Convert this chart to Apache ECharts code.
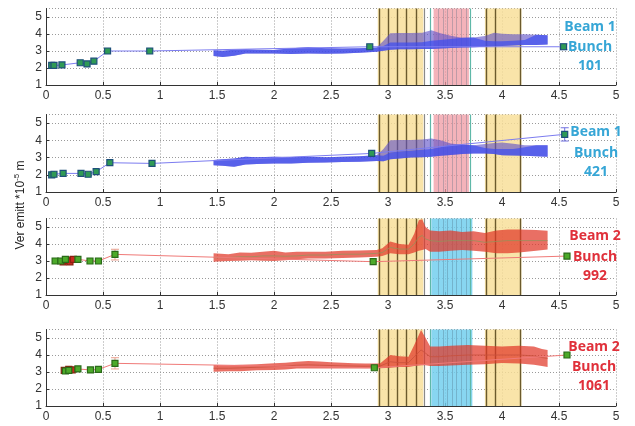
<!DOCTYPE html>
<html>
<head>
<meta charset="utf-8">
<script src="https://cdn.jsdelivr.net/npm/echarts@6/dist/echarts.min.js"></script>
<style>
  html, body { margin: 0; padding: 0; background: #fff; }
  #chart { width: 635px; height: 426px; }
</style>
</head>
<body>
<div id="chart"></div>
<script>
// ---- Scan windows and event markers (x = time) ----
const yellowWindows = [[2.91, 3.31], [3.85, 4.17]];
const beam1Window = [3.40, 3.71];
const beam2Window = [3.38, 3.74];
const eventLines = [2.925, 3.0, 3.08, 3.16, 3.245, 3.86, 3.935, 4.16];
const grayLines = [3.32];
const tealLines = [3.37, 3.715];
const windowLines = [3.44, 3.48, 3.52, 3.56, 3.60, 3.64, 3.68];

// ---- Axis ticks ----
const xTicks = { min: 0, max: 5, step: 0.5 };
const yTicks = { min: 1, max: 5.5, step: 1 };

// ---- Beam 1, bunch 101 ----
const b101PointX = [0.05, 0.07, 0.14, 0.30, 0.36, 0.42, 0.54, 0.91, 2.84, 4.54];
const b101PointY = [2.15, 2.15, 2.18, 2.31, 2.24, 2.40, 3.00, 3.00, 3.25, 3.25];
const b101ErrX = [4.54], b101ErrLo = [3.08], b101ErrHi = [3.42];
const beam1BandX = [1.47, 1.55, 1.65, 1.75, 1.85, 2.0, 2.15, 2.3, 2.45, 2.6, 2.75, 2.9, 2.96, 3.02, 3.1, 3.2, 3.3, 3.38, 3.46, 3.55, 3.65, 3.75, 3.85, 3.93, 4.0, 4.1, 4.2, 4.3, 4.4];
const b101High = [3.05, 3.02, 3.08, 3.10, 3.08, 3.06, 3.16, 3.22, 3.16, 3.15, 3.16, 3.20, 3.60, 4.05, 4.06, 4.06, 4.08, 4.22, 4.05, 3.90, 3.78, 3.80, 3.88, 4.08, 4.02, 3.98, 3.98, 3.95, 3.92];
const b101Low  = [2.70, 2.65, 2.72, 2.85, 2.86, 2.86, 2.82, 2.86, 2.84, 2.86, 2.90, 2.96, 3.02, 3.08, 3.10, 3.10, 3.12, 3.12, 3.14, 3.18, 3.20, 3.22, 3.25, 3.28, 3.30, 3.33, 3.35, 3.35, 3.38];
const b101Core = [3.05, 3.02, 3.08, 3.10, 3.08, 3.06, 3.16, 3.22, 3.16, 3.15, 3.16, 3.20, 3.30, 3.50, 3.50, 3.50, 3.52, 3.60, 3.65, 3.70, 3.78, 3.80, 3.60, 3.58, 3.58, 3.60, 3.65, 3.95, 3.92];

// ---- Beam 1, bunch 421 ----
const b421PointX = [0.05, 0.07, 0.15, 0.307, 0.37, 0.44, 0.56, 0.93, 2.857, 4.55];
const b421PointY = [2.00, 2.03, 2.08, 2.08, 2.03, 2.18, 2.70, 2.66, 3.24, 4.35];
const b421ErrX = [4.55], b421ErrLo = [3.96], b421ErrHi = [4.73];
const b421High = [2.86, 2.90, 2.95, 3.05, 3.02, 3.05, 3.03, 3.05, 3.02, 3.05, 3.08, 3.14, 3.50, 4.00, 4.02, 4.02, 4.05, 4.10, 4.00, 3.82, 3.75, 3.72, 3.78, 3.85, 3.88, 3.80, 3.72, 3.72, 3.72];
const b421Low  = [2.55, 2.52, 2.47, 2.60, 2.62, 2.66, 2.66, 2.70, 2.72, 2.74, 2.76, 2.80, 2.78, 2.90, 2.95, 3.00, 3.02, 3.05, 3.10, 3.15, 3.20, 3.24, 3.24, 3.20, 3.14, 3.12, 3.10, 3.08, 3.05];
const b421Core = [2.86, 2.90, 2.95, 3.05, 3.02, 3.05, 3.03, 3.05, 3.02, 3.05, 3.08, 3.14, 3.10, 3.30, 3.35, 3.40, 3.45, 3.50, 3.60, 3.75, 3.75, 3.72, 3.55, 3.50, 3.50, 3.50, 3.60, 3.72, 3.72];

// ---- Beam 2, bunch 992 ----
const b992PointX = [0.08, 0.13, 0.17, 0.28, 0.386, 0.46, 0.605, 2.87, 4.57];
const b992PointY = [3.00, 3.00, 3.10, 3.10, 3.00, 3.00, 3.39, 2.96, 3.29];
const b992RedX = [0.15, 0.19, 0.21, 0.24];
const b992RedY = [2.95, 3.05, 2.95, 3.10];
const b992ErrX = [0.605], b992ErrLo = [3.06], b992ErrHi = [3.69];
const b992BandX = [1.47, 1.6, 1.7, 1.8, 1.9, 2.0, 2.1, 2.2, 2.3, 2.45, 2.6, 2.75, 2.9, 2.95, 3.02, 3.1, 3.18, 3.23, 3.27, 3.3, 3.33, 3.37, 3.45, 3.55, 3.65, 3.75, 3.85, 3.95, 4.05, 4.15, 4.3, 4.4];
const b992High = [3.45, 3.40, 3.50, 3.48, 3.55, 3.60, 3.50, 3.55, 3.55, 3.55, 3.60, 3.62, 3.65, 3.75, 4.14, 4.00, 3.95, 4.60, 5.40, 5.45, 5.00, 4.80, 4.75, 4.80, 4.70, 4.75, 4.65, 4.80, 4.85, 4.85, 4.82, 4.78];
const b992Low  = [2.96, 3.00, 3.02, 3.05, 3.02, 3.00, 3.05, 3.10, 3.15, 3.15, 3.18, 3.20, 3.25, 3.30, 3.45, 3.40, 3.40, 3.50, 3.60, 3.65, 3.70, 3.55, 3.55, 3.60, 3.65, 3.60, 3.55, 3.45, 3.45, 3.50, 3.60, 3.67];
const b992Mean = [3.20, 3.20, 3.25, 3.25, 3.30, 3.30, 3.28, 3.30, 3.35, 3.35, 3.40, 3.40, 3.45, 3.50, 3.80, 3.70, 3.70, 4.00, 4.40, 4.50, 4.30, 4.20, 4.15, 4.20, 4.20, 4.20, 4.10, 4.15, 4.20, 4.20, 4.20, 4.20];

// ---- Beam 2, bunch 1061 ----
const b1061PointX = [0.17, 0.20, 0.28, 0.39, 0.46, 0.605, 2.88, 4.57];
const b1061PointY = [3.06, 3.10, 3.18, 3.12, 3.15, 3.51, 3.25, 4.00];
const b1061RedX = [0.16, 0.20, 0.23];
const b1061RedY = [3.10, 3.15, 3.12];
const b1061ErrX = [0.605], b1061ErrLo = [3.18], b1061ErrHi = [3.84];
const b1061BandX = [1.47, 1.6, 1.7, 1.85, 2.0, 2.1, 2.2, 2.3, 2.4, 2.5, 2.6, 2.7, 2.8, 2.93, 3.02, 3.1, 3.18, 3.23, 3.29, 3.33, 3.37, 3.45, 3.55, 3.7, 3.85, 4.0, 4.15, 4.28, 4.35, 4.4];
const b1061High = [3.41, 3.40, 3.42, 3.45, 3.51, 3.55, 3.60, 3.65, 3.62, 3.58, 3.55, 3.52, 3.50, 3.50, 4.00, 3.92, 3.90, 4.59, 5.47, 5.00, 4.50, 4.50, 4.55, 4.59, 4.55, 4.50, 4.55, 4.50, 4.35, 4.30];
const b1061Low  = [3.02, 3.05, 3.05, 3.10, 3.12, 3.15, 3.20, 3.20, 3.20, 3.20, 3.20, 3.20, 3.20, 3.22, 3.25, 3.30, 3.30, 3.35, 3.40, 3.40, 3.35, 3.35, 3.38, 3.43, 3.45, 3.53, 3.50, 3.43, 3.35, 3.30];
const b1061Mean = [3.22, 3.22, 3.24, 3.28, 3.32, 3.35, 3.40, 3.42, 3.40, 3.38, 3.36, 3.35, 3.34, 3.35, 3.60, 3.55, 3.55, 3.90, 4.30, 4.10, 3.90, 3.90, 3.95, 4.00, 4.00, 4.00, 4.00, 3.95, 3.85, 3.80];

const panelText = [
  { beam: 'Beam 1', bunch: '101' },
  { beam: 'Beam 1', bunch: '421' },
  { beam: 'Beam 2', bunch: '992' },
  { beam: 'Beam 2', bunch: '1061' }
];

// ---- layout ----
const gridTops = [8.5, 114.5, 218.5, 329.5];
const gridHeights = [76.5, 77.5, 76.5, 76.5];
const labelY = [[27, 47, 66], [132, 153, 172], [236, 257, 276], [347, 367, 386]];
const labelX = [590, 596, 595, 594];
const beam1Color = '#36a6d6';
const beam2Color = '#e0303a';

const pairs = (xs, ys) => xs.map((x, i) => [x, ys[i]]);

// Time windows (shaded) and event markers, drawn together behind the data
function eventSeries(idx, beamWin, beamWinColor) {
  const wins = yellowWindows.map(w => ({ a: w[0], b: w[1], fill: 'rgba(248,222,150,0.82)' }));
  wins.push({ a: beamWin[0], b: beamWin[1], fill: beamWinColor });
  const marks = []
    .concat(windowLines.map(x => ({ x, c: 'rgba(70,100,120,0.3)', w: 1 })))
    .concat(eventLines.map(x => ({ x, c: '#6b5a2c', w: 1.4 })))
    .concat(grayLines.map(x => ({ x, c: '#8a8a8a', w: 1.2 })))
    .concat(tealLines.map(x => ({ x, c: '#5fb8a8', w: 1.2 })));
  return {
    type: 'custom', xAxisIndex: idx, yAxisIndex: idx, z: 1, silent: true,
    data: [[beamWin[0]]],
    encode: { x: 0 },
    renderItem(params, api) {
      const cs = params.coordSys;
      const px = v => api.coord([v, yTicks.min])[0];
      const children = wins.map(w => ({
        type: 'rect', shape: { x: px(w.a), y: cs.y, width: px(w.b) - px(w.a), height: cs.height },
        style: { fill: w.fill }
      })).concat(marks.map(m => {
        const x = Math.round(px(m.x)) + 0.5;
        return { type: 'line', shape: { x1: x, y1: cs.y, x2: x, y2: cs.y + cs.height },
                 style: { stroke: m.c, lineWidth: m.w } };
      }));
      return { type: 'group', children };
    }
  };
}

// Spread band between a lower and an upper curve
function bandSeries(idx, xs, lo, hi, fill, z) {
  return {
    type: 'custom', xAxisIndex: idx, yAxisIndex: idx, z: z, silent: true,
    data: xs.map((x, k) => [x, lo[k], hi[k]]),
    encode: { x: 0, y: [1, 2] },
    renderItem(params, api) {
      if (params.dataIndex !== 0) return null;
      const top = xs.map((x, k) => api.coord([x, hi[k]]));
      const bot = xs.map((x, k) => api.coord([x, lo[k]])).reverse();
      return { type: 'polygon', shape: { points: top.concat(bot) }, style: { fill: fill } };
    }
  };
}

function meanSeries(idx, xs, ys, color) {
  return {
    type: 'line', xAxisIndex: idx, yAxisIndex: idx, z: 4, silent: true,
    data: pairs(xs, ys), symbol: 'none', lineStyle: { color: color, width: 1 }
  };
}

function errorSeries(idx, xs, lo, hi, color) {
  return {
    type: 'custom', xAxisIndex: idx, yAxisIndex: idx, z: 6, silent: true,
    data: xs.map((x, k) => [x, lo[k], hi[k]]),
    encode: { x: 0, y: [1, 2] },
    renderItem(params, api) {
      const a = api.coord([api.value(0), api.value(1)]);
      const b = api.coord([api.value(0), api.value(2)]);
      const w = 4;
      const st = { stroke: color, lineWidth: 1 };
      return {
        type: 'group', children: [
          { type: 'line', shape: { x1: a[0], y1: a[1], x2: b[0], y2: b[1] }, style: st },
          { type: 'line', shape: { x1: a[0] - w, y1: a[1], x2: a[0] + w, y2: a[1] }, style: st },
          { type: 'line', shape: { x1: b[0] - w, y1: b[1], x2: b[0] + w, y2: b[1] }, style: st }
        ]
      };
    }
  };
}

function pathSeries(idx, xs, ys, color) {
  return {
    type: 'line', xAxisIndex: idx, yAxisIndex: idx, z: 5, silent: true,
    data: pairs(xs, ys), symbol: 'none',
    lineStyle: { color: color, width: 1 }
  };
}

function pointSeries(idx, xs, ys, fill, border) {
  return {
    type: 'scatter', xAxisIndex: idx, yAxisIndex: idx, z: 7, silent: true,
    data: pairs(xs, ys), symbol: 'rect', symbolSize: 6,
    itemStyle: { color: fill, borderColor: border, borderWidth: 1.2, opacity: 1 }
  };
}

const grids = [], xAxes = [], yAxes = [];
for (let i = 0; i < 4; i++) {
  grids.push({ left: 46, right: 19, top: gridTops[i], height: gridHeights[i] });
  xAxes.push({
    type: 'value', gridIndex: i, min: xTicks.min, max: xTicks.max, interval: xTicks.step,
    axisLine: { show: true, onZero: false, lineStyle: { color: '#333', width: 1 } },
    axisTick: { show: true, inside: true, length: 3, lineStyle: { color: '#333' } },
    axisLabel: { color: '#333', fontSize: 12, fontFamily: 'Liberation Sans, Arial, sans-serif', margin: 5,
                 formatter: v => String(v) },
    splitLine: { show: true, lineStyle: { color: '#9a9a9a', type: [1, 2], width: 1 } }
  });
  yAxes.push({
    type: 'value', gridIndex: i, min: yTicks.min, max: yTicks.max, interval: yTicks.step,
    axisLine: { show: true, lineStyle: { color: '#333', width: 1 } },
    axisTick: { show: true, inside: true, length: 3, lineStyle: { color: '#333' } },
    axisLabel: { color: '#333', fontSize: 12, fontFamily: 'Liberation Sans, Arial, sans-serif', margin: 4,
                 showMaxLabel: false },
    splitLine: { show: true, lineStyle: { color: '#9a9a9a', type: [1, 2], width: 1 } }
  });
}

const beam1Line = '#7c7cf0';
const beam2Line = '#f07a78';
const beam1Outer = 'rgba(95,80,200,0.62)';
const beam1Inner = 'rgba(60,75,240,0.7)';
const beam2Fill = 'rgba(225,55,40,0.72)';
const series = [].concat(
  // panel 0
  [
    eventSeries(0, beam1Window, 'rgba(240,150,160,0.72)'),
    bandSeries(0, beam1BandX, b101Low, b101High, beam1Outer, 2),
    bandSeries(0, beam1BandX, b101Low, b101Core, beam1Inner, 3),
    pathSeries(0, b101PointX, b101PointY, beam1Line),
    errorSeries(0, b101ErrX, b101ErrLo, b101ErrHi, '#8a8ae0'),
    pointSeries(0, b101PointX, b101PointY, '#2f9a55', '#1d4f7a')
  ],
  // panel 1
  [
    eventSeries(1, beam1Window, 'rgba(240,150,160,0.72)'),
    bandSeries(1, beam1BandX, b421Low, b421High, beam1Outer, 2),
    bandSeries(1, beam1BandX, b421Low, b421Core, beam1Inner, 3),
    pathSeries(1, b421PointX, b421PointY, beam1Line),
    errorSeries(1, b421ErrX, b421ErrLo, b421ErrHi, '#7070e0'),
    pointSeries(1, b421PointX, b421PointY, '#2f9a55', '#1d4f7a')
  ],
  // panel 2
  [
    eventSeries(2, beam2Window, 'rgba(110,205,238,0.82)'),
    bandSeries(2, b992BandX, b992Low, b992High, beam2Fill, 2),
    meanSeries(2, b992BandX, b992Mean, 'rgba(140,150,90,0.7)'),
    pathSeries(2, b992PointX, b992PointY, beam2Line),
    errorSeries(2, b992ErrX, b992ErrLo, b992ErrHi, '#e8a090'),
    pointSeries(2, b992RedX, b992RedY, '#c8281e', '#8a2010'),
    pointSeries(2, b992PointX, b992PointY, '#4caa2a', '#2a6a18')
  ],
  // panel 3
  [
    eventSeries(3, beam2Window, 'rgba(110,205,238,0.82)'),
    bandSeries(3, b1061BandX, b1061Low, b1061High, beam2Fill, 2),
    meanSeries(3, b1061BandX, b1061Mean, 'rgba(200,80,60,0.8)'),
    pathSeries(3, b1061PointX, b1061PointY, beam2Line),
    errorSeries(3, b1061ErrX, b1061ErrLo, b1061ErrHi, '#e8a090'),
    pointSeries(3, b1061RedX, b1061RedY, '#c8281e', '#8a2010'),
    pointSeries(3, b1061PointX, b1061PointY, '#4caa2a', '#2a6a18')
  ]
);

const graphics = [];
panelText.forEach((p, i) => {
  const color = p.beam === 'Beam 1' ? beam1Color : beam2Color;
  [p.beam, 'Bunch', p.bunch].forEach((t, k) => {
    graphics.push({
      type: 'text', x: labelX[i], y: labelY[i][k], z: 100,
      style: { text: t, fill: color, font: 'bold 14px "Open Sans", sans-serif',
               textAlign: 'center', textVerticalAlign: 'middle' }
    });
  });
});
graphics.push({
  type: 'text', x: 21, y: 205, rotation: Math.PI / 2, z: 100,
  style: {
    text: '{a|Ver emitt *10}{s|-5}{a| m}',
    textAlign: 'center', textVerticalAlign: 'middle',
    rich: {
      a: { fontSize: 12, fontFamily: 'Liberation Sans, Arial, sans-serif', fill: '#222', lineHeight: 16 },
      s: { fontSize: 8, fontFamily: 'Liberation Sans, Arial, sans-serif', fill: '#222', verticalAlign: 'top', lineHeight: 16 }
    }
  }
});

const chart = echarts.init(document.getElementById('chart'), null, { renderer: 'canvas' });
chart.setOption({
  animation: false,
  backgroundColor: '#fff',
  grid: grids,
  xAxis: xAxes,
  yAxis: yAxes,
  series: series,
  graphic: graphics
});
</script>
</body>
</html>
